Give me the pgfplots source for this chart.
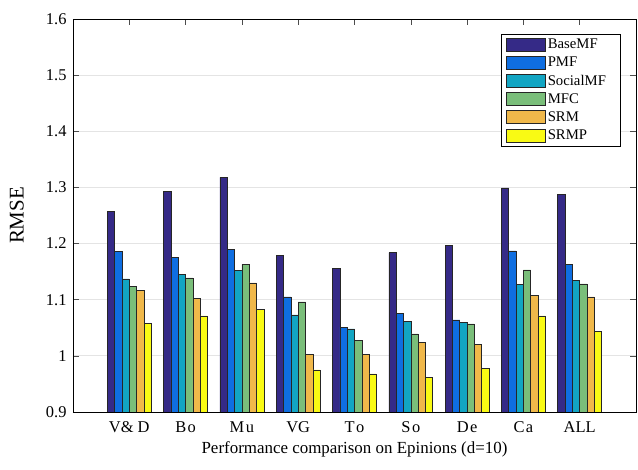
\documentclass[border=0pt]{standalone}
\usepackage{fontspec}
\setmainfont{Liberation Serif}
\usepackage{pgfplots}
\usepackage{pgfplotstable}
\pgfplotsset{compat=1.18}
\definecolor{cBase}{RGB}{53,42,135}
\definecolor{cPMF}{RGB}{15,110,225}
\definecolor{cSoc}{RGB}{18,165,195}
\definecolor{cMFC}{RGB}{122,190,122}
\definecolor{cSRM}{RGB}{240,184,74}
\definecolor{cSRMP}{RGB}{249,250,20}
\definecolor{gridgray}{RGB}{228,228,228}
\pgfplotstableread{
x base pmf soc mfc srm srmp
1 1.258 1.186 1.137 1.124 1.117 1.058
2 1.293 1.175 1.145 1.139 1.103 1.071
3 1.318 1.190 1.152 1.163 1.130 1.083
4 1.179 1.105 1.073 1.096 1.002 0.975
5 1.156 1.051 1.048 1.027 1.002 0.968
6 1.184 1.076 1.062 1.039 1.024 0.962
7 1.197 1.064 1.059 1.057 1.021 0.977
8 1.299 1.187 1.127 1.153 1.107 1.071
9 1.287 1.163 1.135 1.128 1.105 1.043
}\data
\begin{document}
\begin{tikzpicture}
\useasboundingbox (-73bp,-58bp) rectangle (565bp,412bp);
\begin{axis}[
  at={(0,0)}, anchor=south west,
  scale only axis,
  width=563bp, height=393bp,
  xmin=0, xmax=10, ymin=0.9, ymax=1.6,
  ybar legend/.style={legend image code/.code={\draw[##1] (0bp,-6.5bp) rectangle (39bp,6.5bp);}},
  ybar=0pt, bar width=0.13,
  xtick={1,...,9},
  xticklabels={V\& D,B\kern1.5bp o,M\kern1.5bp u,VG,T\kern1.5bp o,S\kern1.5bp o,D\kern1.5bp e,C\kern1.5bp a,ALL},
  ytick={0.9,1,1.1,1.2,1.3,1.4,1.5,1.6},
  yticklabels={0.9,1,1.1,1.2,1.3,1.4,1.5,1.6},
  tick align=inside, major tick length=6bp,
  tick style={black!70, line width=0.5pt},
  ymajorgrids, grid style={gridgray, line width=0.8pt},
  axis line style={black, line width=0.7pt},
  tick label style={font=\fontsize{16.5}{18}\selectfont},
  xticklabel style={yshift=-6bp},
  yticklabel style={xshift=-3bp},
  xlabel={Performance comparison on Epinions (d=10)},
  ylabel={RMSE},
  xlabel style={font=\fontsize{17}{19}\selectfont, at={(axis description cs:0.5,-0.095)}, anchor=center},
  ylabel style={font=\fontsize{21}{23}\selectfont, at={(axis description cs:-0.1,0.5)}, anchor=center},
  every axis plot post/.append style={draw=black!85, line width=0.6pt},
  legend style={at={(axis description cs:0.972,0.962)}, anchor=north east,
    draw=black, line width=0.6pt, font=\fontsize{14.8}{16}\selectfont,
    row sep=2.8bp, inner xsep=5bp, inner ysep=3bp},
  legend cell align=left,
]
\addplot[fill=cBase] table[x=x,y=base]{\data};
\addplot[fill=cPMF] table[x=x,y=pmf]{\data};
\addplot[fill=cSoc] table[x=x,y=soc]{\data};
\addplot[fill=cMFC] table[x=x,y=mfc]{\data};
\addplot[fill=cSRM] table[x=x,y=srm]{\data};
\addplot[fill=cSRMP] table[x=x,y=srmp]{\data};
\legend{BaseMF,PMF,SocialMF\hspace*{7bp}\mbox{},MFC,SRM,SRMP}
\end{axis}
\end{tikzpicture}
\end{document}
